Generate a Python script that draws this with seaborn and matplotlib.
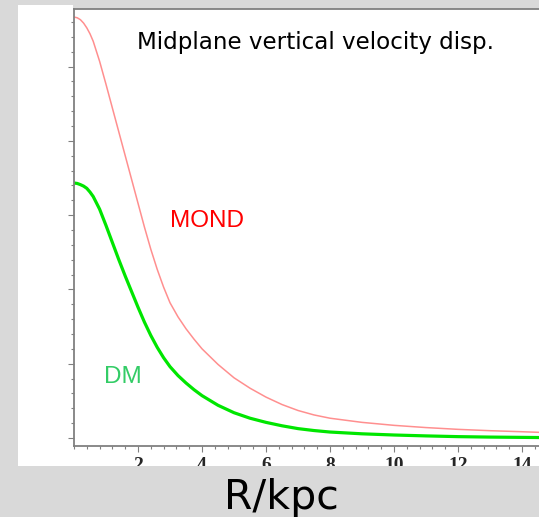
import matplotlib
matplotlib.use("Agg")
import matplotlib.pyplot as plt
import seaborn as sns
from matplotlib.patches import Rectangle
from matplotlib.ticker import MultipleLocator, NullFormatter

# ---- data ----
r_mond = [0.0, 0.1, 0.2, 0.3, 0.4, 0.5, 0.6, 0.8, 1.0, 1.2, 1.4, 1.6, 1.8, 2.0, 2.2, 2.4,
          2.6, 2.8, 3.0, 3.25, 3.5, 3.75, 4.0, 4.5, 5.0, 5.5, 6.0, 6.5, 7.0, 7.5, 8.0,
          9.0, 10.0, 11.0, 12.0, 13.0, 14.0, 14.53]
sig_mond = [28.33, 28.28, 28.15, 27.92, 27.6, 27.2, 26.7, 25.35, 23.8, 22.2, 20.6, 19.0,
            17.4, 15.8, 14.2, 12.7, 11.35, 10.15, 9.1, 8.15, 7.35, 6.65, 6.0, 4.95,
            4.05, 3.35, 2.75, 2.25, 1.85, 1.55, 1.33, 1.05, 0.85, 0.70, 0.58, 0.49,
            0.42, 0.38]
r_dm = [0.0, 0.1, 0.2, 0.3, 0.4, 0.5, 0.6, 0.8, 1.0, 1.2, 1.4, 1.6, 1.8, 2.0, 2.2, 2.4,
        2.6, 2.8, 3.0, 3.25, 3.5, 3.75, 4.0, 4.5, 5.0, 5.5, 6.0, 6.5, 7.0, 7.5, 8.0,
        9.0, 10.0, 11.0, 12.0, 13.0, 14.53]
sig_dm = [17.16, 17.13, 17.05, 16.95, 16.8, 16.55, 16.25, 15.4, 14.3, 13.15, 12.0, 10.9,
          9.85, 8.8, 7.8, 6.9, 6.1, 5.4, 4.8, 4.2, 3.7, 3.25, 2.85, 2.2, 1.7, 1.33,
          1.05, 0.82, 0.63, 0.5, 0.4, 0.28, 0.2, 0.14, 0.09, 0.06, 0.03]
x_ticks = [2, 4, 6, 8, 10, 12, 14]
title_text = "Midplane vertical velocity disp."
label_mond = "MOND"
label_dm = "DM"
x_label = "R/kpc"

sns.set_style("white")

W, H = 539, 517
fig = plt.figure(figsize=(W / 100, H / 100), dpi=100)
fig.patch.set_facecolor("#d9d9d9")


def fx(px):
    return px / W


def fy(py):
    return 1 - py / H


# white panel behind plot
fig.add_artist(Rectangle((fx(18), fy(466)), fx(539) - fx(18), fy(9) - fy(466),
                         transform=fig.transFigure, facecolor="white", edgecolor="none", zorder=-5))
fig.add_artist(Rectangle((fx(18), fy(9)), fx(73) - fx(18), fy(5) - fy(9),
                         transform=fig.transFigure, facecolor="white", edgecolor="none", zorder=-5))

ax = fig.add_axes([fx(74), fy(446), fx(539) - fx(74), fy(9) - fy(446)])
ax.set_facecolor("white")

sns.lineplot(x=r_mond, y=sig_mond, ax=ax, color="#ff8f8f", linewidth=1.1, sort=False)
sns.lineplot(x=r_dm, y=sig_dm, ax=ax, color="#00e600", linewidth=2.3, sort=False)

ax.set_xlim(0, 14.53)
ax.set_ylim(-0.54, 28.87)

ax.set_xticks(x_ticks)
ax.xaxis.set_minor_locator(MultipleLocator(0.4))
ax.yaxis.set_major_locator(MultipleLocator(5))
ax.yaxis.set_minor_locator(MultipleLocator(1))
ax.yaxis.set_major_formatter(NullFormatter())
ax.set_xticklabels([str(t) for t in x_ticks], fontfamily="Liberation Serif",
                   fontweight="bold", fontsize=14)
ax.tick_params(axis="both", which="major", direction="out", length=4, width=0.8,
               color="#808080", left=True, bottom=True)
ax.tick_params(axis="both", which="minor", direction="out", length=2.2, width=0.8,
               color="#808080", left=True, bottom=True)
ax.tick_params(axis="x", which="major", pad=4)

for s in ["left", "bottom", "top"]:
    ax.spines[s].set_color("#808080")
    ax.spines[s].set_linewidth(1.3)
ax.spines["right"].set_visible(False)

ax.set_xlabel("")
ax.set_ylabel("")

# annotations
ax.text((137 - 74) / 465, 1 - (42 - 9) / 437, title_text, transform=ax.transAxes,
        fontsize=16.6, fontfamily="DejaVu Sans", color="black", ha="left", va="center")
ax.text((170 - 74) / 465, 1 - (221 - 9) / 437, label_mond, transform=ax.transAxes,
        fontsize=17.5, fontfamily="Liberation Sans", color="#ff0000", ha="left", va="center")
ax.text((104 - 74) / 465, 1 - (377 - 9) / 437, label_dm, transform=ax.transAxes,
        fontsize=17.5, fontfamily="Liberation Sans", color="#33cc66", ha="left", va="center")

# gray band at bottom which covers the lower part of the tick labels
fig.add_artist(Rectangle((0, 0), 1, fy(466), transform=fig.transFigure,
                         facecolor="#d9d9d9", edgecolor="none", zorder=5))
fig.text(fx(281), fy(509), x_label, fontsize=29.5, fontfamily="DejaVu Sans", color="black",
         ha="center", va="baseline", zorder=6)

fig.savefig("out.png", dpi=100, facecolor=fig.get_facecolor())
